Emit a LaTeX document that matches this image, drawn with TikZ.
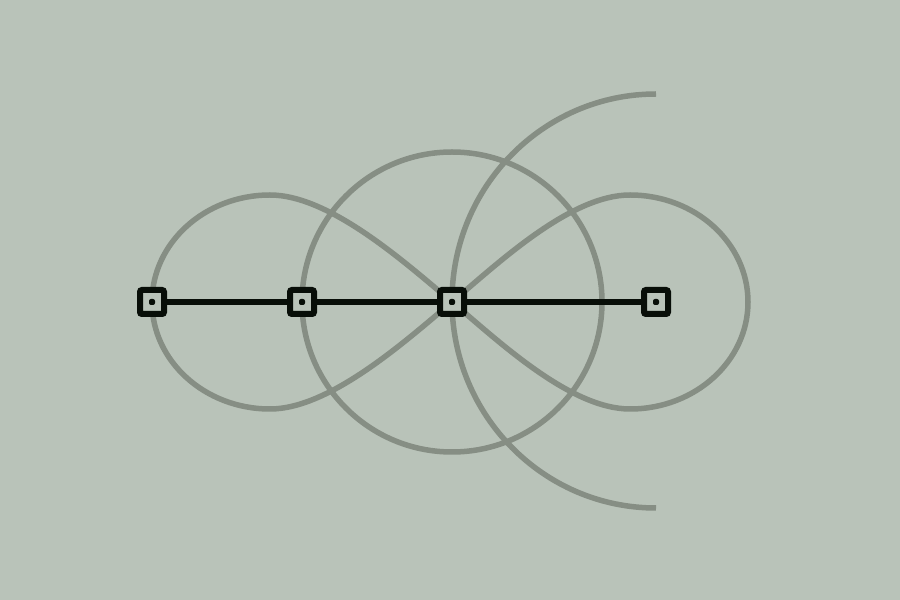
\documentclass[tikz,border=0pt]{standalone}
\definecolor{bgc}{RGB}{185,195,185}
\definecolor{arcc}{RGB}{134,142,132}
\definecolor{inkc}{RGB}{8,14,8}
\begin{document}
\begin{tikzpicture}[x=1pt,y=1pt,
  guide/.style={draw=arcc,line width=5.5pt},
  link/.style={draw=inkc,line width=6pt},
  pt/.style={rectangle,draw=inkc,line width=6pt,fill=bgc,minimum size=24pt,inner sep=0pt,rounded corners=2pt,
    path picture={\fill[inkc] ([shift={(-3pt,-3pt)}]path picture bounding box.center) rectangle ++(6pt,6pt);}}]
\fill[bgc] (0,0) rectangle (900,600);
\useasboundingbox (0,0) rectangle (900,600);
% left teardrop
\draw[guide] (152,298) arc[start angle=180,end angle=90,x radius=118,y radius=107]
  .. controls (330,405) and (406,336.6) .. (452,298)
  .. controls (406,259.4) and (330,191) .. (270,191)
  arc[start angle=270,end angle=180,x radius=118,y radius=107] -- cycle;
% right teardrop
\draw[guide] (452,298) .. controls (498,336.6) and (570,405) .. (630,405)
  arc[start angle=90,end angle=-90,x radius=118,y radius=107]
  .. controls (570,191) and (498,259.4) .. (452,298);
% circle around C
\draw[guide] (452,298) circle[radius=150];
% large half arc around D
\draw[guide] (656,506) arc[start angle=90,end angle=270,x radius=204,y radius=207];
% points
\node[pt] (A) at (152,298) {};
\node[pt] (B) at (302,298) {};
\node[pt] (C) at (452,298) {};
\node[pt] (D) at (656,298) {};
\draw[link] (A) -- (B);
\draw[link] (B) -- (C);
\draw[link] (C) -- (D);
\end{tikzpicture}
\end{document}
